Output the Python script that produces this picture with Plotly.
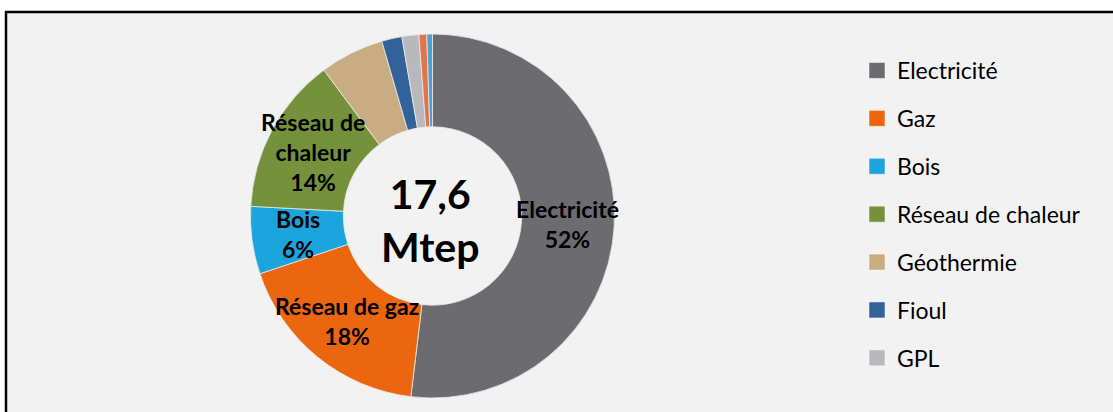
import numpy as np
import plotly.graph_objects as go

# ---- data ----
categories = ["Electricité", "Gaz", "Bois", "Réseau de chaleur", "Géothermie",
              "Fioul", "GPL", "Autre 1", "Autre 2"]
shares = [52, 18, 6, 14, 5.7, 1.8, 1.5, 0.7, 0.5]
slice_labels = ["Electricité<br>52%", "Réseau de gaz<br>18%", "Bois<br>6%",
                "Réseau de<br>chaleur<br>14%", "", "", "", "", ""]
legend_items = ["Electricité", "Gaz", "Bois", "Réseau de chaleur", "Géothermie", "Fioul", "GPL"]
center_text = "17,6<br>Mtep"

colors = ["#6C6C70", "#EC6610", "#1CA5DD", "#75913B", "#C8AC82",
          "#33629A", "#B9B9BD", "#E0744C", "#4DA0D2"]

W, H = 1113, 412
cx, cy, R = 432.5, 216.0, 182.0
hole = 0.49
FONT = "Lato"

fig = go.Figure()

fig.add_trace(go.Pie(
    labels=categories, values=shares, sort=False, direction="clockwise",
    rotation=0, hole=hole, textinfo="none", showlegend=False,
    marker=dict(colors=colors, line=dict(color="rgba(235,235,235,0.8)", width=1)),
    domain=dict(x=[(cx - R) / W, (cx + R) / W], y=[1 - (cy + R) / H, 1 - (cy - R) / H]),
    hoverinfo="label+percent",
))

# labels placed at mid-ring radius, at each slice's mid angle (computed from data)
vals = np.array(shares, dtype=float)
frac = vals / vals.sum()
cum = np.cumsum(frac) - frac / 2
rmid = R * (1 + hole) / 2
for lab, f in zip(slice_labels, cum):
    if not lab:
        continue
    ang = 2 * np.pi * f
    px = cx + rmid * np.sin(ang)
    py = cy - rmid * np.cos(ang)
    fig.add_annotation(x=px / W, y=1 - py / H, xref="paper", yref="paper",
                       text="<b>" + lab + "</b>", showarrow=False,
                       font=dict(family=FONT, size=23, color="black"),
                       xanchor="center", yanchor="middle")

fig.add_annotation(x=(cx - 3) / W, y=1 - (cy + 4) / H, xref="paper", yref="paper",
                   text="<b>" + center_text + "</b>", showarrow=False,
                   font=dict(family=FONT, size=41, color="black"),
                   xanchor="center", yanchor="middle")

# legend entries
for name, col in zip(legend_items, colors):
    fig.add_trace(go.Scatter(x=[None], y=[None], mode="markers", name=name,
                             legendgroup=name,
                             marker=dict(symbol="square", size=16, color=col,
                                         line=dict(color="rgba(255,255,255,0.5)", width=1))))

fig.add_shape(type="rect", xref="paper", yref="paper",
              x0=6 / W, x1=1.02, y0=-0.02, y1=1 - 12 / H,
              fillcolor="#F2F2F2", line=dict(color="black", width=2.5), layer="below")

fig.update_layout(
    width=W, height=H,
    margin=dict(l=0, r=0, t=0, b=0),
    paper_bgcolor="white", plot_bgcolor="rgba(0,0,0,0)",
    xaxis=dict(visible=False), yaxis=dict(visible=False),
    font=dict(family=FONT, color="black"),
    legend=dict(x=857 / W, y=1 - 49 / H, xanchor="left", yanchor="top",
                font=dict(family=FONT, size=23, color="black"),
                bgcolor="rgba(0,0,0,0)", tracegroupgap=15,
                itemsizing="trace", traceorder="grouped", itemwidth=30),
    showlegend=True,
)

fig.write_html("out.html", config={"displayModeBar": False},
               post_script="document.body.style.margin='0';document.body.style.overflow='hidden';")
